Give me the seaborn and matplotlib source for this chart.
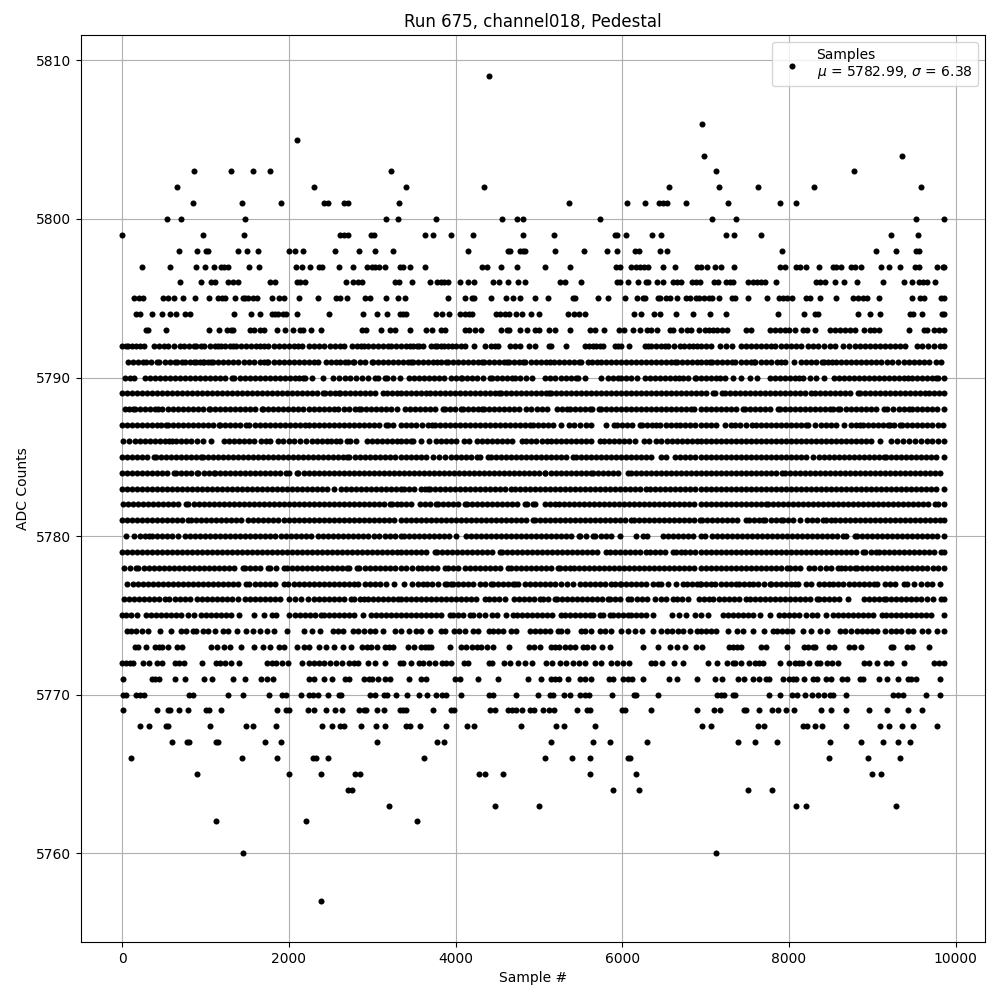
import pandas as pd
import matplotlib
matplotlib.use('Agg')
import matplotlib.pyplot as plt
import seaborn as sns

# Sample numbers, one list per ADC count level
s5809 = [4396]
s5806 = [6952]
s5805 = [2104]
s5804 = [6976, 9352]
s5803 = [868, 1312, 1576, 1780, 3220, 7120, 8776]
s5802 = [664, 2308, 3400, 4336, 6556, 7156, 7624, 8296, 9580]
s5801 = [856, 1444, 1912, 2428, 2476, 2660, 2708, 3316, 5356, 6052, 6268, 6436, 6484, 6532, 6760, 7264, 7888, 8080]
s5800 = [544, 712, 1480, 3160, 3304, 3760, 4552, 4732, 4804, 5728, 7072, 7360, 9520, 9856]
s5799 = [4, 976, 1468, 2620, 2668, 2716, 2992, 3028, 3628, 3724, 3940, 4204, 4804, 5176, 5908, 5932, 6040, 6352, 6460, 7240, 7336, 7660, 9220, 9544]
s5798 = [688, 904, 1012, 1036, 1396, 1504, 1636, 2008, 2080, 2176, 2560, 2848, 3040, 3244, 4144, 4624, 4648, 4768, 4804, 4828, 5188, 5536, 5812, 5932, 6148, 6196, 6448, 6532, 7912, 9040, 9280, 9520, 9556]
s5797 = [244, 580, 892, 1000, 1108, 1192, 1228, 1276, 1528, 1648, 2092, 2164, 2260, 2368, 2404, 2608, 2776, 2944, 3004, 3040, 3088, 3148, 3328, 3364, 3448, 3628, 4312, 4372, 4540, 4732, 5068, 5368, 5920, 5968, 6100, 6160, 6208, 6256, 6304, 6484, 6628, 6892, 6940, 7012, 7108, 7180, 7336, 7888, 7948, 8080, 8128, 8200, 8356, 8524, 8560, 8620, 8740, 8788, 8860, 9100, 9196, 9328, 9508, 9556, 9772, 9844, 9856]
s5796 = [700, 952, 1072, 1120, 1276, 1336, 1396, 1780, 1840, 2104, 2140, 2200, 2692, 2776, 2836, 2884, 3268, 3316, 3472, 3688, 3772, 3820, 3856, 3904, 4048, 4144, 4216, 4444, 4516, 4624, 4744, 4828, 5248, 5308, 5500, 5932, 5968, 6064, 6184, 6280, 6304, 6412, 6484, 6604, 6652, 6700, 6832, 6880, 6928, 7096, 7144, 7240, 7288, 7324, 7504, 7564, 7612, 7660, 7708, 7840, 8320, 8368, 8428, 8548, 8656, 8812, 9124, 9376, 9472, 9556, 9604, 9652, 9748]
s5795 = [148, 208, 256, 496, 556, 628, 736, 880, 1048, 1156, 1204, 1240, 1360, 1456, 1480, 1516, 1576, 1624, 1804, 1888, 1948, 2128, 2356, 2572, 2620, 2704, 2920, 2980, 3160, 3304, 3388, 3904, 4108, 4192, 4216, 4420, 4600, 4684, 4768, 4948, 5104, 5404, 5428, 5704, 5824, 6028, 6172, 6244, 6268, 6424, 6448, 6520, 6568, 6652, 6760, 6808, 6880, 6916, 6976, 7036, 7072, 7156, 7312, 7348, 7504, 7732, 7876, 7924, 7972, 8032, 8200, 8248, 8368, 8560, 8764, 8824, 8884, 8932, 9076, 9472, 9568, 9616, 9820, 9856]
s5794 = [172, 220, 364, 484, 580, 652, 760, 820, 1348, 1552, 1660, 1804, 1840, 1876, 1936, 1972, 2104, 2488, 2896, 3064, 3172, 3328, 3364, 3400, 3760, 3832, 3916, 4048, 4108, 4156, 4192, 4480, 4528, 4588, 4636, 4720, 4792, 4900, 4996, 5344, 5416, 5476, 5548, 6136, 6220, 6376, 6448, 6640, 6844, 7048, 7240, 7864, 8176, 8308, 8344, 8824, 8968, 9088, 9448, 9484, 9592, 9832, 9856]
s5793 = [292, 316, 532, 1048, 1168, 1264, 1312, 1336, 1540, 1588, 1660, 1708, 1864, 1960, 2056, 2140, 2176, 2272, 2392, 2884, 2932, 3112, 3208, 3268, 3448, 3640, 3712, 3820, 3868, 4108, 4156, 4228, 4300, 4540, 4612, 4636, 4768, 4852, 4948, 4996, 5116, 5188, 5368, 5608, 5668, 5776, 5956, 6016, 6124, 6208, 6292, 6340, 6412, 6568, 6604, 6700, 6772, 6820, 6916, 6988, 7036, 7084, 7132, 7192, 7252, 7480, 7540, 7768, 7828, 7888, 7948, 7996, 8068, 8164, 8212, 8308, 8488, 8548, 8608, 8668, 8728, 8788, 8896, 8968, 9016, 9076, 9436, 9616, 9652, 9736, 9796, 9856]
s5792 = [4, 48, 76, 116, 172, 220, 268, 380, 440, 500, 556, 620, 692, 748, 804, 860, 892, 948, 988, 1060, 1116, 1156, 1188, 1240, 1290, 1332, 1372, 1430, 1490, 1550, 1610, 1660, 1708, 1756, 1820, 1880, 1940, 2000, 2060, 2110, 2156, 2248, 2300, 2360, 2420, 2490, 2550, 2610, 2668, 2756, 2820, 2870, 2908, 2956, 3010, 3070, 3130, 3188, 3220, 3280, 3340, 3404, 3450, 3490, 3532, 3560, 3604, 3708, 3748, 3772, 3828, 3856, 3910, 3960, 4010, 4060, 4108, 4216, 4356, 4420, 4470, 4508, 4648, 4708, 4768, 4876, 4948, 5116, 5140, 5320, 5548, 5600, 5648, 5688, 5730, 5768, 5908, 5950, 5988, 6080, 6268, 6310, 6348, 6408, 6460, 6510, 6548, 6616, 6688, 6740, 6796, 6848, 6900, 6948, 7000, 7060, 7168, 7248, 7316, 7420, 7480, 7548, 7610, 7670, 7730, 7780, 7828, 7900, 7960, 8028, 8080, 8148, 8228, 8290, 8350, 8420, 8490, 8548, 8648, 8720, 8788, 8848, 8908, 8968, 9030, 9090, 9150, 9208, 9268, 9330, 9388, 9540, 9600, 9670, 9740, 9808, 9856]
s5791 = [76, 130, 190, 248, 292, 350, 420, 448, 510, 570, 636, 660, 716, 756, 810, 860, 888, 930, 968, 988, 1030, 1068, 1088, 1150, 1210, 1270, 1330, 1390, 1460, 1528, 1580, 1660, 1700, 1740, 1756, 1820, 1880, 1940, 2000, 2060, 2120, 2180, 2240, 2300, 2348, 2448, 2510, 2568, 2620, 2676, 2708, 2768, 2788, 2850, 2920, 2996, 3008, 3070, 3130, 3190, 3250, 3310, 3370, 3430, 3460, 3488, 3550, 3610, 3670, 3730, 3780, 3820, 3880, 3908, 3970, 4030, 4090, 4150, 4210, 4270, 4320, 4340, 4400, 4460, 4520, 4580, 4620, 4636, 4700, 4760, 4808, 4836, 4900, 4960, 5020, 5080, 5136, 5176, 5240, 5300, 5360, 5420, 5476, 5508, 5588, 5636, 5700, 5748, 5810, 5870, 5930, 5990, 6050, 6110, 6170, 6230, 6290, 6350, 6410, 6470, 6530, 6590, 6628, 6660, 6720, 6780, 6840, 6900, 6948, 7000, 7048, 7080, 7140, 7200, 7260, 7316, 7356, 7420, 7480, 7540, 7580, 7596, 7660, 7720, 7790, 7860, 7900, 7956, 8056, 8140, 8200, 8260, 8330, 8396, 8416, 8470, 8516, 8568, 8630, 8690, 8750, 8810, 8870, 8930, 8990, 9050, 9110, 9180, 9240, 9308, 9376, 9440, 9500, 9560, 9620, 9684, 9760, 9828]
s5790 = [36, 90, 140, 280, 340, 400, 460, 520, 580, 640, 700, 760, 820, 880, 940, 1000, 1060, 1120, 1180, 1240, 1316, 1348, 1410, 1470, 1530, 1590, 1650, 1710, 1770, 1830, 1890, 1950, 2010, 2070, 2120, 2172, 2200, 2280, 2416, 2536, 2608, 2670, 2740, 2810, 2876, 2948, 3040, 3076, 3148, 3180, 3250, 3328, 3436, 3500, 3560, 3620, 3680, 3740, 3796, 3856, 3940, 4000, 4068, 4080, 4140, 4200, 4260, 4328, 4408, 4436, 4500, 4560, 4620, 4676, 4708, 4770, 4840, 4916, 5068, 5130, 5190, 5260, 5328, 5388, 5440, 5468, 5556, 5748, 5828, 5890, 5948, 5988, 6050, 6110, 6180, 6268, 6330, 6390, 6450, 6510, 6570, 6630, 6680, 6728, 6788, 6868, 6888, 6940, 7000, 7060, 7120, 7168, 7228, 7328, 7420, 7528, 7620, 7768, 7830, 7890, 7950, 8010, 8070, 8120, 8168, 8248, 8320, 8420, 8540, 8600, 8660, 8720, 8780, 8840, 8900, 8960, 9020, 9080, 9140, 9200, 9260, 9320, 9380, 9428, 9476, 9540, 9600, 9660, 9720, 9768, 9788, 9856]
s5789 = [4, 60, 120, 180, 240, 300, 360, 420, 480, 540, 600, 660, 720, 780, 840, 900, 960, 1020, 1080, 1140, 1200, 1260, 1320, 1380, 1440, 1500, 1560, 1620, 1680, 1740, 1800, 1860, 1920, 1980, 2040, 2100, 2160, 2220, 2280, 2340, 2408, 2436, 2500, 2560, 2608, 2620, 2680, 2740, 2800, 2860, 2920, 2980, 3040, 3128, 3180, 3240, 3300, 3348, 3410, 3470, 3530, 3590, 3648, 3688, 3750, 3810, 3870, 3930, 3990, 4050, 4110, 4170, 4230, 4290, 4350, 4410, 4470, 4520, 4540, 4600, 4660, 4720, 4780, 4840, 4900, 4960, 5020, 5080, 5120, 5148, 5210, 5270, 5320, 5388, 5450, 5510, 5570, 5630, 5690, 5750, 5810, 5870, 5930, 5990, 6050, 6110, 6170, 6230, 6290, 6350, 6410, 6470, 6530, 6590, 6650, 6710, 6770, 6830, 6890, 6948, 7010, 7088, 7116, 7196, 7228, 7290, 7350, 7410, 7470, 7530, 7590, 7650, 7710, 7770, 7830, 7890, 7950, 8010, 8070, 8130, 8190, 8268, 8308, 8370, 8430, 8490, 8550, 8610, 8670, 8730, 8828, 8848, 8910, 8970, 9030, 9090, 9150, 9210, 9270, 9330, 9390, 9450, 9510, 9570, 9628, 9676, 9740, 9800, 9856]
s5788 = [36, 80, 128, 160, 220, 280, 340, 400, 436, 484, 550, 610, 670, 730, 790, 850, 910, 970, 1048, 1060, 1120, 1180, 1240, 1300, 1360, 1420, 1480, 1540, 1600, 1676, 1688, 1750, 1810, 1870, 1930, 1990, 2050, 2108, 2176, 2240, 2300, 2360, 2420, 2480, 2548, 2596, 2660, 2720, 2790, 2848, 2868, 2930, 2990, 3050, 3110, 3170, 3230, 3300, 3388, 3450, 3510, 3570, 3630, 3690, 3750, 3848, 3868, 3930, 3990, 4068, 4088, 4150, 4210, 4270, 4320, 4340, 4400, 4460, 4520, 4580, 4640, 4700, 4760, 4848, 4900, 4980, 5040, 5100, 5216, 5280, 5340, 5368, 5430, 5490, 5550, 5608, 5636, 5720, 5748, 5810, 5870, 5930, 5990, 6050, 6110, 6170, 6230, 6290, 6350, 6410, 6470, 6530, 6590, 6650, 6710, 6770, 6828, 6860, 6948, 7000, 7060, 7120, 7180, 7240, 7300, 7360, 7448, 7468, 7530, 7590, 7650, 7710, 7770, 7868, 7888, 7950, 8010, 8070, 8130, 8190, 8250, 8310, 8370, 8430, 8488, 8528, 8588, 8616, 8680, 8740, 8800, 8860, 8920, 8980, 9040, 9140, 9180, 9248, 9316, 9380, 9440, 9476, 9540, 9600, 9660, 9720, 9780, 9856]
s5787 = [4, 60, 120, 180, 240, 300, 360, 420, 470, 528, 548, 610, 670, 730, 790, 850, 910, 970, 1030, 1090, 1168, 1180, 1240, 1300, 1360, 1420, 1488, 1528, 1590, 1650, 1710, 1770, 1830, 1890, 1950, 2010, 2070, 2130, 2190, 2248, 2300, 2360, 2420, 2480, 2540, 2600, 2660, 2720, 2780, 2840, 2900, 2960, 3020, 3080, 3168, 3188, 3250, 3348, 3410, 3470, 3530, 3596, 3668, 3716, 3748, 3810, 3870, 3930, 3990, 4050, 4110, 4170, 4230, 4290, 4350, 4410, 4470, 4530, 4590, 4650, 4710, 4770, 4830, 4888, 4928, 4990, 5050, 5110, 5168, 5268, 5360, 5420, 5490, 5560, 5628, 5808, 5900, 5940, 6000, 6060, 6120, 6208, 6236, 6300, 6360, 6408, 6456, 6530, 6590, 6648, 6688, 6750, 6810, 6870, 6948, 7010, 7070, 7130, 7228, 7300, 7348, 7410, 7480, 7556, 7600, 7660, 7720, 7780, 7840, 7900, 7960, 8020, 8080, 8140, 8208, 8228, 8316, 8380, 8440, 8500, 8568, 8660, 8748, 8810, 8848, 8888, 8950, 9010, 9070, 9130, 9188, 9216, 9260, 9328, 9360, 9420, 9480, 9540, 9600, 9660, 9720, 9788, 9848]
s5786 = [16, 88, 150, 210, 270, 330, 390, 450, 510, 568, 596, 648, 710, 770, 830, 900, 968, 1068, 1220, 1280, 1340, 1400, 1460, 1520, 1580, 1668, 1730, 1780, 1868, 1930, 2000, 2068, 2140, 2208, 2276, 2340, 2400, 2460, 2510, 2568, 2620, 2696, 2740, 2808, 2936, 3000, 3060, 3120, 3180, 3240, 3300, 3348, 3410, 3460, 3488, 3588, 3676, 3760, 3820, 3880, 3940, 4000, 4100, 4160, 4260, 4320, 4380, 4440, 4500, 4560, 4620, 4680, 4796, 4840, 4900, 4970, 5036, 5096, 5148, 5210, 5270, 5330, 5390, 5450, 5510, 5570, 5630, 5728, 5780, 5840, 5900, 5960, 6020, 6080, 6148, 6256, 6316, 6400, 6468, 6536, 6600, 6660, 6720, 6780, 6840, 6900, 6948, 7010, 7070, 7130, 7190, 7250, 7310, 7370, 7430, 7490, 7550, 7610, 7670, 7730, 7790, 7850, 7910, 7970, 8030, 8090, 8150, 8210, 8270, 8330, 8390, 8450, 8510, 8570, 8630, 8690, 8750, 8810, 8870, 8930, 8990, 9088, 9228, 9300, 9370, 9440, 9508, 9580, 9656, 9720, 9790, 9856]
s5785 = [0, 60, 120, 180, 240, 300, 388, 408, 470, 530, 590, 650, 710, 770, 830, 890, 948, 968, 1030, 1090, 1150, 1210, 1270, 1330, 1390, 1450, 1510, 1570, 1630, 1690, 1750, 1810, 1870, 1930, 1990, 2050, 2110, 2170, 2230, 2290, 2350, 2410, 2470, 2530, 2590, 2650, 2700, 2728, 2790, 2850, 2910, 2970, 3030, 3090, 3150, 3210, 3270, 3348, 3410, 3470, 3530, 3590, 3650, 3728, 3796, 3876, 3940, 4000, 4060, 4120, 4180, 4260, 4292, 4388, 4428, 4490, 4550, 4610, 4670, 4730, 4790, 4848, 4908, 4970, 5030, 5090, 5150, 5210, 5270, 5330, 5408, 5448, 5510, 5570, 5630, 5690, 5750, 5810, 5870, 5930, 5990, 6050, 6110, 6170, 6230, 6290, 6350, 6468, 6528, 6628, 6690, 6750, 6810, 6870, 6948, 7010, 7070, 7130, 7190, 7250, 7310, 7370, 7430, 7490, 7550, 7610, 7670, 7730, 7790, 7850, 7910, 7970, 8030, 8090, 8150, 8210, 8288, 8356, 8420, 8480, 8540, 8600, 8660, 8720, 8780, 8840, 8900, 8960, 9020, 9080, 9140, 9168, 9230, 9290, 9350, 9410, 9470, 9530, 9590, 9650, 9710, 9770, 9856]
s5784 = [0, 60, 120, 180, 240, 300, 360, 420, 480, 540, 620, 648, 710, 770, 830, 900, 916, 980, 1040, 1108, 1120, 1180, 1240, 1300, 1360, 1420, 1480, 1540, 1600, 1660, 1720, 1780, 1840, 1900, 1968, 2008, 2100, 2116, 2180, 2240, 2300, 2360, 2420, 2480, 2540, 2600, 2660, 2720, 2780, 2840, 2900, 2960, 3020, 3080, 3140, 3200, 3260, 3320, 3380, 3440, 3500, 3560, 3620, 3680, 3740, 3800, 3860, 3920, 3980, 4040, 4100, 4160, 4220, 4280, 4340, 4400, 4460, 4520, 4580, 4640, 4700, 4760, 4820, 4880, 4940, 5000, 5068, 5076, 5140, 5200, 5260, 5320, 5380, 5440, 5500, 5560, 5628, 5648, 5710, 5770, 5830, 5890, 5950, 6068, 6108, 6170, 6230, 6290, 6350, 6410, 6470, 6530, 6590, 6650, 6710, 6770, 6830, 6890, 6948, 7010, 7070, 7130, 7190, 7250, 7310, 7370, 7430, 7490, 7550, 7610, 7670, 7730, 7790, 7850, 7916, 7948, 8010, 8070, 8130, 8190, 8250, 8310, 8370, 8430, 8490, 8550, 8610, 8670, 8730, 8790, 8850, 8910, 8970, 9030, 9090, 9150, 9210, 9270, 9330, 9390, 9450, 9510, 9570, 9630, 9690, 9750, 9810]
s5783 = [0, 60, 120, 180, 240, 300, 360, 420, 480, 540, 600, 660, 720, 780, 840, 900, 960, 1020, 1080, 1140, 1200, 1260, 1320, 1380, 1440, 1500, 1560, 1620, 1680, 1740, 1800, 1860, 1920, 1980, 2040, 2100, 2160, 2220, 2280, 2340, 2400, 2460, 2548, 2628, 2690, 2750, 2810, 2870, 2930, 2990, 3050, 3110, 3170, 3230, 3290, 3348, 3380, 3440, 3500, 3588, 3628, 3668, 3688, 3750, 3810, 3870, 3930, 3990, 4050, 4110, 4170, 4230, 4290, 4350, 4410, 4470, 4530, 4590, 4668, 4708, 4770, 4830, 4890, 4950, 5010, 5070, 5130, 5190, 5250, 5310, 5370, 5430, 5490, 5550, 5610, 5670, 5730, 5790, 5850, 5910, 5970, 6030, 6090, 6150, 6210, 6288, 6328, 6390, 6450, 6510, 6570, 6630, 6690, 6750, 6810, 6870, 6948, 7010, 7070, 7130, 7190, 7250, 7310, 7370, 7430, 7490, 7550, 7610, 7670, 7730, 7790, 7850, 7910, 7970, 8030, 8090, 8150, 8210, 8270, 8330, 8390, 8450, 8510, 8570, 8630, 8690, 8750, 8810, 8870, 8930, 8990, 9050, 9110, 9170, 9230, 9290, 9350, 9410, 9470, 9530, 9590, 9650, 9710, 9770, 9856]
s5782 = [8, 70, 130, 190, 250, 310, 370, 430, 490, 550, 610, 670, 768, 796, 860, 920, 980, 1040, 1100, 1160, 1220, 1280, 1340, 1400, 1460, 1520, 1580, 1640, 1700, 1760, 1820, 1880, 1940, 2000, 2060, 2120, 2180, 2240, 2300, 2360, 2420, 2480, 2540, 2600, 2660, 2720, 2780, 2840, 2900, 2960, 3020, 3080, 3140, 3208, 3236, 3300, 3348, 3410, 3470, 3568, 3628, 3690, 3760, 3788, 3850, 3910, 3970, 4030, 4108, 4140, 4200, 4260, 4320, 4380, 4440, 4500, 4560, 4620, 4680, 4740, 4836, 4860, 4928, 4956, 5068, 5128, 5196, 5236, 5300, 5360, 5420, 5480, 5540, 5600, 5660, 5720, 5780, 5840, 5900, 5960, 6020, 6080, 6140, 6200, 6260, 6320, 6380, 6440, 6500, 6560, 6620, 6680, 6740, 6800, 6860, 6948, 7010, 7070, 7130, 7190, 7250, 7310, 7370, 7430, 7490, 7550, 7610, 7670, 7728, 7748, 7810, 7870, 7930, 7990, 8050, 8110, 8170, 8230, 8290, 8350, 8410, 8470, 8530, 8590, 8650, 8710, 8770, 8830, 8890, 8950, 9010, 9070, 9130, 9190, 9250, 9310, 9370, 9430, 9490, 9550, 9610, 9670, 9756, 9788, 9856]
s5781 = [0, 60, 120, 180, 240, 300, 360, 420, 480, 540, 600, 660, 720, 796, 828, 890, 950, 1010, 1070, 1130, 1190, 1250, 1310, 1370, 1430, 1508, 1568, 1630, 1690, 1750, 1810, 1868, 1940, 2000, 2060, 2120, 2180, 2240, 2300, 2360, 2420, 2480, 2540, 2600, 2660, 2720, 2780, 2840, 2900, 2960, 3020, 3080, 3140, 3200, 3260, 3348, 3410, 3470, 3530, 3590, 3650, 3710, 3770, 3830, 3890, 3950, 4010, 4070, 4130, 4190, 4250, 4310, 4370, 4430, 4490, 4550, 4610, 4670, 4730, 4790, 4850, 4928, 4948, 5010, 5070, 5130, 5190, 5250, 5310, 5370, 5430, 5490, 5550, 5610, 5670, 5730, 5790, 5850, 5910, 5970, 6030, 6108, 6140, 6200, 6260, 6320, 6380, 6440, 6500, 6560, 6620, 6680, 6740, 6800, 6860, 6928, 6956, 7020, 7080, 7140, 7200, 7260, 7320, 7380, 7488, 7516, 7580, 7640, 7688, 7716, 7780, 7840, 7908, 7928, 7990, 8050, 8128, 8216, 8280, 8340, 8408, 8448, 8508, 8548, 8610, 8670, 8730, 8790, 8850, 8910, 8970, 9030, 9090, 9150, 9210, 9270, 9330, 9390, 9450, 9510, 9570, 9630, 9690, 9750, 9810, 9856]
s5780 = [52, 148, 210, 270, 328, 356, 420, 480, 540, 600, 676, 760, 820, 880, 940, 1000, 1060, 1120, 1180, 1240, 1300, 1360, 1420, 1480, 1540, 1600, 1660, 1720, 1780, 1836, 1908, 1970, 2030, 2090, 2150, 2210, 2270, 2348, 2408, 2470, 2530, 2590, 2650, 2710, 2770, 2830, 2890, 2950, 3028, 3088, 3150, 3210, 3270, 3348, 3380, 3440, 3500, 3560, 3620, 3680, 3740, 3800, 3860, 3920, 4008, 4120, 4180, 4240, 4300, 4360, 4420, 4480, 4540, 4600, 4660, 4720, 4780, 4840, 4900, 4960, 5020, 5080, 5140, 5200, 5260, 5320, 5380, 5476, 5496, 5560, 5648, 5676, 5740, 5800, 5860, 5968, 6160, 6248, 6300, 6488, 6550, 6610, 6670, 6730, 6790, 6850, 6948, 6988, 7076, 7140, 7200, 7260, 7320, 7380, 7440, 7500, 7560, 7620, 7680, 7740, 7800, 7860, 7920, 7980, 8040, 8100, 8160, 8220, 8280, 8340, 8400, 8460, 8520, 8580, 8648, 8688, 8788, 8816, 8880, 8940, 9000, 9060, 9120, 9180, 9240, 9300, 9360, 9420, 9480, 9540, 9600, 9660, 9720, 9780, 9856]
s5779 = [0, 60, 120, 180, 240, 300, 360, 420, 480, 540, 600, 660, 720, 780, 840, 900, 960, 1020, 1080, 1140, 1200, 1260, 1320, 1380, 1440, 1500, 1560, 1620, 1680, 1740, 1800, 1860, 1920, 1980, 2040, 2100, 2160, 2220, 2280, 2340, 2400, 2460, 2520, 2580, 2640, 2700, 2760, 2820, 2880, 2940, 3000, 3060, 3120, 3180, 3240, 3300, 3348, 3410, 3470, 3530, 3590, 3650, 3756, 3780, 3840, 3900, 3960, 4020, 4080, 4140, 4200, 4260, 4320, 4380, 4440, 4528, 4556, 4620, 4680, 4740, 4800, 4860, 4920, 4980, 5040, 5100, 5160, 5220, 5280, 5340, 5400, 5460, 5520, 5580, 5640, 5700, 5808, 5848, 5910, 5970, 6030, 6090, 6150, 6210, 6280, 6328, 6390, 6450, 6510, 6608, 6648, 6708, 6748, 6810, 6870, 6948, 7010, 7070, 7130, 7190, 7250, 7310, 7370, 7430, 7490, 7550, 7610, 7670, 7730, 7790, 7850, 7910, 7970, 8030, 8090, 8150, 8210, 8270, 8330, 8390, 8450, 8510, 8570, 8630, 8690, 8750, 8810, 8888, 8916, 8980, 9048, 9076, 9140, 9200, 9260, 9320, 9380, 9440, 9500, 9560, 9620, 9680, 9740, 9828, 9856]
s5778 = [28, 90, 168, 196, 260, 320, 380, 440, 500, 560, 620, 680, 740, 800, 860, 920, 980, 1040, 1100, 1160, 1220, 1280, 1340, 1448, 1480, 1540, 1600, 1660, 1756, 1780, 1850, 1948, 1980, 2040, 2100, 2160, 2220, 2280, 2340, 2400, 2460, 2520, 2580, 2640, 2700, 2728, 2816, 2848, 2910, 2970, 3030, 3090, 3150, 3210, 3270, 3348, 3410, 3480, 3548, 3596, 3660, 3720, 3780, 3868, 3908, 3970, 4030, 4108, 4168, 4230, 4290, 4350, 4410, 4470, 4530, 4628, 4660, 4720, 4780, 4840, 4900, 4960, 5020, 5080, 5140, 5228, 5248, 5310, 5368, 5420, 5480, 5540, 5600, 5660, 5720, 5780, 5840, 5900, 5960, 6020, 6080, 6140, 6200, 6260, 6320, 6380, 6440, 6500, 6560, 6620, 6680, 6740, 6800, 6860, 6948, 7010, 7070, 7130, 7190, 7250, 7310, 7370, 7430, 7490, 7550, 7610, 7670, 7730, 7790, 7850, 7910, 7980, 8008, 8070, 8130, 8236, 8300, 8370, 8440, 8508, 8588, 8628, 8668, 8730, 8788, 8816, 8880, 8940, 9000, 9060, 9120, 9180, 9240, 9300, 9360, 9420, 9480, 9540, 9600, 9660, 9728, 9788, 9856]
s5777 = [60, 136, 188, 250, 310, 370, 430, 490, 550, 610, 670, 730, 790, 850, 910, 970, 1030, 1090, 1150, 1210, 1270, 1330, 1390, 1488, 1528, 1590, 1650, 1710, 1770, 1830, 1948, 1996, 2060, 2120, 2180, 2240, 2300, 2360, 2420, 2480, 2540, 2600, 2660, 2720, 2780, 2836, 2920, 2980, 3040, 3100, 3160, 3260, 3380, 3476, 3548, 3610, 3656, 3716, 3790, 3868, 3900, 3948, 3968, 4030, 4090, 4150, 4208, 4288, 4350, 4428, 4448, 4510, 4570, 4630, 4688, 4708, 4748, 4828, 4890, 4950, 5010, 5070, 5130, 5190, 5268, 5336, 5408, 5488, 5550, 5610, 5670, 5730, 5790, 5868, 5908, 5968, 5988, 6050, 6110, 6170, 6230, 6290, 6368, 6428, 6468, 6548, 6648, 6728, 6776, 6840, 6900, 6928, 6940, 7000, 7060, 7116, 7188, 7250, 7310, 7368, 7396, 7460, 7520, 7568, 7628, 7700, 7768, 7788, 7850, 7910, 7970, 8030, 8076, 8108, 8208, 8268, 8356, 8420, 8480, 8528, 8588, 8650, 8716, 8776, 8840, 8900, 8960, 9020, 9060, 9148, 9208, 9276, 9380, 9420, 9500, 9580, 9656, 9720, 9808]
s5776 = [20, 80, 140, 200, 260, 320, 380, 440, 516, 568, 630, 690, 750, 820, 900, 960, 1020, 1080, 1140, 1200, 1260, 1320, 1388, 1476, 1540, 1600, 1660, 1720, 1780, 1840, 1900, 2008, 2076, 2148, 2236, 2300, 2360, 2420, 2480, 2540, 2600, 2660, 2748, 2788, 2850, 2908, 2948, 3010, 3070, 3130, 3190, 3250, 3310, 3348, 3410, 3470, 3530, 3590, 3650, 3710, 3770, 3830, 3890, 3950, 4010, 4070, 4130, 4190, 4250, 4348, 4396, 4460, 4520, 4588, 4700, 4760, 4820, 4880, 4940, 5008, 5048, 5110, 5188, 5220, 5280, 5340, 5400, 5460, 5520, 5580, 5640, 5700, 5760, 5828, 5848, 5910, 5970, 6068, 6108, 6180, 6240, 6300, 6388, 6468, 6530, 6608, 6660, 6720, 6788, 6916, 6980, 7040, 7088, 7156, 7220, 7280, 7340, 7400, 7488, 7528, 7590, 7650, 7710, 7768, 7828, 7890, 7950, 8010, 8070, 8130, 8190, 8250, 8340, 8356, 8420, 8480, 8540, 8600, 8708, 8900, 8960, 9020, 9080, 9140, 9168, 9230, 9290, 9350, 9410, 9470, 9530, 9590, 9660, 9728, 9820, 9856]
s5775 = [0, 52, 108, 176, 292, 350, 410, 470, 530, 590, 650, 710, 796, 860, 948, 1008, 1070, 1130, 1190, 1250, 1310, 1408, 1580, 1708, 1796, 1848, 2008, 2070, 2130, 2190, 2250, 2310, 2388, 2420, 2480, 2540, 2600, 2660, 2720, 2780, 2888, 2988, 3050, 3110, 3170, 3230, 3290, 3348, 3410, 3470, 3530, 3590, 3650, 3710, 3770, 3830, 3928, 3968, 4030, 4090, 4168, 4208, 4280, 4348, 4436, 4500, 4608, 4688, 4740, 4800, 4860, 4920, 4980, 5040, 5100, 5160, 5268, 5308, 5370, 5430, 5490, 5550, 5608, 5648, 5728, 5768, 5848, 5888, 5950, 6010, 6068, 6100, 6168, 6230, 6290, 6368, 6596, 6680, 6768, 6876, 6948, 7028, 7208, 7270, 7330, 7390, 7450, 7510, 7570, 7648, 7768, 7880, 7940, 8000, 8060, 8120, 8208, 8276, 8340, 8448, 8528, 8590, 8650, 8710, 8770, 8830, 8890, 8950, 9010, 9116, 9168, 9230, 9290, 9350, 9408, 9468, 9528, 9580, 9640, 9700, 9856]
s5774 = [60, 110, 168, 236, 316, 456, 588, 708, 770, 848, 888, 968, 1028, 1116, 1208, 1270, 1376, 1488, 1568, 1660, 1740, 1820, 1980, 2188, 2280, 2380, 2528, 2590, 2650, 2768, 2828, 2908, 2970, 3030, 3128, 3276, 3348, 3436, 3528, 3588, 3688, 3820, 3868, 3980, 4036, 4108, 4208, 4268, 4396, 4448, 4510, 4568, 4668, 4728, 4888, 4950, 5010, 5070, 5130, 5228, 5268, 5336, 5508, 5548, 5620, 5728, 5796, 5860, 5988, 6068, 6156, 6236, 6368, 6460, 6536, 6600, 6668, 6728, 6808, 6900, 6948, 7010, 7070, 7130, 7268, 7380, 7448, 7568, 7700, 7808, 7860, 7920, 7980, 8040, 8168, 8260, 8368, 8456, 8616, 8668, 8740, 8820, 8880, 8940, 9000, 9060, 9148, 9228, 9290, 9350, 9428, 9488, 9596, 9668, 9780, 9856]
s5773 = [160, 196, 292, 400, 448, 484, 556, 664, 724, 1072, 1144, 1228, 1300, 1432, 1588, 1696, 1780, 1888, 1948, 2104, 2188, 2248, 2368, 2452, 2548, 2656, 2752, 2884, 2944, 2992, 3064, 3148, 3196, 3244, 3424, 3496, 3580, 3628, 3664, 3700, 3928, 4060, 4120, 4192, 4252, 4300, 4372, 4444, 4636, 4876, 4936, 5008, 5140, 5188, 5236, 5308, 5368, 5428, 5524, 5572, 5644, 5752, 5848, 6244, 6424, 6568, 6652, 6748, 6880, 6952, 7276, 7324, 7372, 7420, 7660, 7720, 7972, 8176, 8224, 8284, 8308, 8476, 8536, 8716, 8776, 8860, 9220, 9244, 9412, 9472, 9676]
s5772 = [4, 52, 100, 136, 256, 328, 424, 484, 640, 688, 748, 964, 1132, 1180, 1240, 1312, 1408, 1744, 1804, 1852, 1924, 1996, 2164, 2248, 2308, 2368, 2428, 2500, 2572, 2644, 2728, 2788, 2836, 2956, 3040, 3148, 3328, 3364, 3460, 3556, 3604, 3676, 3748, 3832, 3880, 3940, 4096, 4144, 4396, 4432, 4576, 4648, 4744, 4828, 4912, 5080, 5152, 5248, 5320, 5404, 5476, 5548, 5668, 5740, 5860, 5932, 6004, 6076, 6340, 6388, 6472, 6616, 6724, 7024, 7132, 7252, 7324, 7348, 7420, 7516, 7588, 7636, 7684, 7888, 7996, 8068, 8116, 8152, 8236, 8332, 8368, 8452, 8512, 8584, 8896, 8956, 9052, 9160, 9220, 9376, 9736, 9796, 9856]
s5771 = [16, 364, 400, 448, 640, 760, 988, 1084, 1336, 1480, 1672, 1744, 1816, 2248, 2308, 2428, 2524, 2680, 2728, 2908, 2968, 3004, 3076, 3148, 3208, 3436, 3580, 3640, 3988, 4048, 4264, 4504, 4864, 5020, 5140, 5188, 5236, 5344, 5488, 5548, 5620, 5836, 5884, 6004, 6064, 6112, 6244, 6556, 6652, 6892, 7108, 7192, 7384, 7456, 7564, 7636, 7720, 7756, 7924, 7996, 8044, 8080, 8176, 8284, 8332, 8440, 8500, 8632, 8692, 8848, 8884, 9076, 9172, 9304, 9424, 9460, 9520, 9808]
s5770 = [16, 52, 172, 220, 268, 808, 856, 1276, 1456, 1768, 1924, 1972, 2152, 2248, 2296, 2348, 2468, 2608, 2632, 2980, 3040, 3136, 3172, 3280, 3412, 3556, 3652, 3760, 3832, 3880, 4060, 4396, 4444, 4720, 4984, 5128, 5164, 5296, 5368, 5488, 5548, 5596, 5872, 6136, 6160, 6424, 7132, 7180, 7216, 7324, 7348, 7756, 7888, 8032, 8092, 8188, 8272, 8344, 8416, 8488, 8524, 8680, 9244, 9304, 9364, 9640, 9808]
s5769 = [16, 424, 556, 580, 688, 796, 1012, 1048, 1192, 1864, 1972, 2008, 2236, 2308, 2444, 2560, 2644, 2848, 2908, 2932, 3064, 3136, 3328, 3364, 3400, 3724, 3940, 3976, 4408, 4468, 4624, 4672, 4720, 4792, 4888, 4936, 5044, 5116, 5176, 5452, 5572, 5608, 5992, 6028, 6340, 6892, 7096, 7168, 7456, 7480, 7636, 7792, 7864, 7960, 8056, 8380, 8500, 8680, 8956, 9172, 9424, 9592]
s5768 = [220, 328, 532, 556, 1060, 1492, 1576, 1852, 2404, 2524, 2620, 2668, 2872, 3052, 3148, 3400, 3448, 3568, 3880, 4132, 4216, 4780, 5200, 5296, 5668, 6952, 7060, 7624, 7696, 8164, 8212, 8308, 8392, 8680, 9088, 9196, 9352, 9484, 9772]
s5767 = [604, 784, 808, 1132, 1156, 1720, 1912, 3064, 3772, 3856, 5140, 5644, 5848, 6292, 7384, 7588, 7852, 8488, 8860, 9124, 9304, 9448]
s5766 = [112, 1444, 1864, 2296, 2332, 2476, 3616, 5068, 5392, 5608, 6064, 6088, 8476, 8944, 9328]
s5765 = [904, 2008, 2392, 2800, 2860, 4276, 4348, 4564, 5608, 6160, 8992, 9100]
s5764 = [2716, 2764, 5884, 6196, 7504, 7792]
s5763 = [3196, 4468, 4996, 8080, 8200, 9280]
s5762 = [1132, 2212, 3532]
s5760 = [1456, 7120]
s5757 = [2392]

levels = [5809, 5806, 5805, 5804, 5803, 5802, 5801, 5800, 5799, 5798, 5797, 5796, 5795, 5794, 5793,
          5792, 5791, 5790, 5789, 5788, 5787, 5786, 5785, 5784, 5783, 5782, 5781, 5780, 5779, 5778,
          5777, 5776, 5775, 5774, 5773, 5772, 5771, 5770, 5769, 5768, 5767, 5766, 5765, 5764, 5763,
          5762, 5760, 5757]
samples = [s5809, s5806, s5805, s5804, s5803, s5802, s5801, s5800, s5799, s5798, s5797, s5796, s5795, s5794, s5793,
           s5792, s5791, s5790, s5789, s5788, s5787, s5786, s5785, s5784, s5783, s5782, s5781, s5780, s5779, s5778,
           s5777, s5776, s5775, s5774, s5773, s5772, s5771, s5770, s5769, s5768, s5767, s5766, s5765, s5764, s5763,
           s5762, s5760, s5757]

df = pd.DataFrame({'Sample': samples, 'ADC': levels}).explode('Sample')
df['Sample'] = df['Sample'].astype(int)

fig, ax = plt.subplots(figsize=(10, 10), dpi=100)
sns.scatterplot(data=df, x='Sample', y='ADC', color='k', s=19, linewidth=0, zorder=3, ax=ax,
                label='Samples\n$\\mu$ = 5782.99, $\\sigma$ = 6.38')
ax.set_xlim(-493, 10352)
ax.set_ylim(5754.4, 5811.6)
ax.set_title('Run 675, channel018, Pedestal', pad=5.5)
ax.set_xlabel('Sample #')
ax.set_ylabel('ADC Counts')
ax.grid(True)
ax.legend(loc='upper right')
fig.subplots_adjust(left=0.081, right=0.985, top=0.965, bottom=0.058)
plt.savefig('out.png')
